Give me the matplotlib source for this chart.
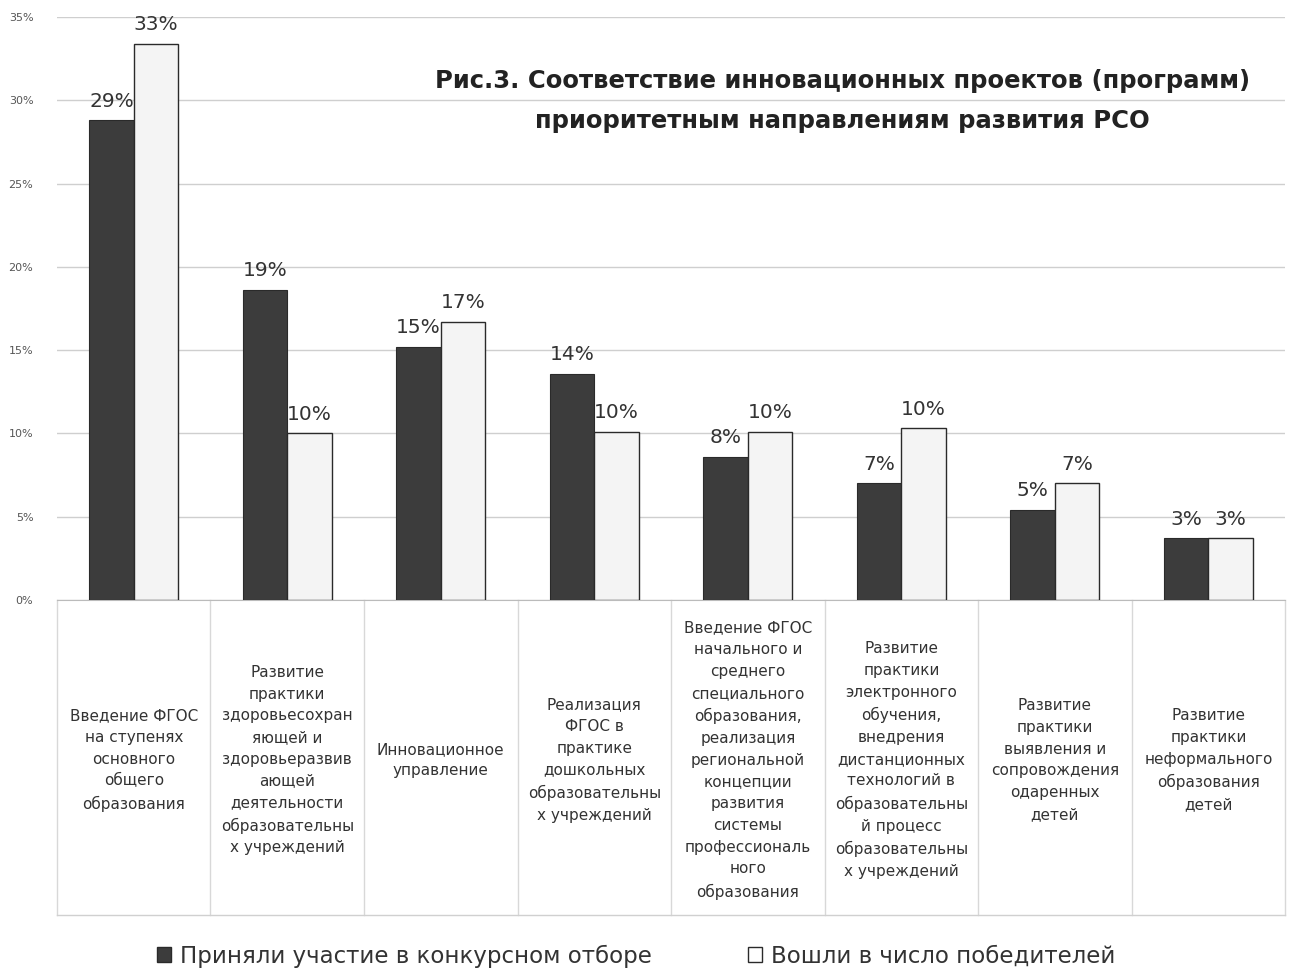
import numpy as np
import matplotlib.pyplot as plt
from matplotlib.patches import Patch

# Categories (x-axis labels, already broken into lines as in the original)
categories = [
    'Введение ФГОС\nна ступенях\nосновного\nобщего\nобразования',
    'Развитие\nпрактики\nздоровьесохран\nяющей и\nздоровьеразвив\nающей\nдеятельности\nобразовательны\nх учреждений',
    'Инновационное\nуправление',
    'Реализация\nФГОС в\nпрактике\nдошкольных\nобразовательны\nх учреждений',
    'Введение ФГОС\nначального и\nсреднего\nспециального\nобразования,\nреализация\nрегиональной\nконцепции\nразвития\nсистемы\nпрофессиональ\nного\nобразования',
    'Развитие\nпрактики\nэлектронного\nобучения,\nвнедрения\nдистанционных\nтехнологий в\nобразовательны\nй процесс\nобразовательны\nх учреждений',
    'Развитие\nпрактики\nвыявления и\nсопровождения\nодаренных\nдетей',
    'Развитие\nпрактики\nнеформального\nобразования\nдетей',
]

# Series values (%)
participated = [28.8, 18.6, 15.2, 13.6, 8.6, 7.0, 5.4, 3.7]
winners = [33.4, 10.0, 16.7, 10.1, 10.1, 10.3, 7.0, 3.7]

# Data labels as printed on the chart
participated_labels = ['29%', '19%', '15%', '14%', '8%', '7%', '5%', '3%']
winners_labels = ['33%', '10%', '17%', '10%', '10%', '10%', '7%', '3%']

series_names = ['Приняли участие в конкурсном отборе', 'Вошли в число победителей']
y_ticks = [0, 5, 10, 15, 20, 25, 30, 35]

title = ('Рис.3. Соответствие инновационных проектов (программ)\n'
         'приоритетным направлениям развития РСО')

dark = '#3c3c3c'
light = '#f4f4f4'
grid_col = '#cfcfcf'
text_col = '#333333'

fig = plt.figure(figsize=(13.06, 9.71), dpi=100)
ax = fig.add_axes([0.0436, 0.382, 0.9405, 0.6005])

x = np.arange(len(categories))
w = 0.29

b1 = ax.bar(x - w / 2, participated, w, color=dark, edgecolor='#2a2a2a', linewidth=0.8, zorder=3)
b2 = ax.bar(x + w / 2, winners, w, color=light, edgecolor='#2a2a2a', linewidth=1.0, zorder=3)

for bar, lab in zip(b1, participated_labels):
    ax.annotate(lab, (bar.get_x() + bar.get_width() / 2, bar.get_height()),
                xytext=(0, 7), textcoords='offset points', ha='center', va='bottom',
                fontsize=14.5, color=text_col)
for bar, lab in zip(b2, winners_labels):
    ax.annotate(lab, (bar.get_x() + bar.get_width() / 2, bar.get_height()),
                xytext=(0, 7), textcoords='offset points', ha='center', va='bottom',
                fontsize=14.5, color=text_col)

ax.set_xlim(-0.5, len(categories) - 0.5)
ax.set_ylim(0, 35)
ax.set_yticks(y_ticks)
ax.set_yticklabels([f'{t}%' for t in y_ticks], fontsize=8, color='#555555')
ax.tick_params(axis='y', length=0, pad=17)
ax.set_xticks([])
ax.yaxis.grid(True, color=grid_col, linewidth=1.0, zorder=0)
for s in ['top', 'right', 'left']:
    ax.spines[s].set_visible(False)
ax.spines['bottom'].set_color('#bbbbbb')

# table-like category area below the axis
trans = ax.get_xaxis_transform()
bottom = -0.54
for b in np.arange(len(categories) + 1) - 0.5:
    ax.plot([b, b], [0, bottom], transform=trans, color='#d8d8d8', linewidth=1.0, clip_on=False)
ax.plot([-0.5, len(categories) - 0.5], [bottom, bottom], transform=trans,
        color='#d0d0d0', linewidth=1.0, clip_on=False)

for xi, lab in zip(x, categories):
    ax.text(xi, -0.2745, lab, transform=trans, ha='center', va='center',
            fontsize=11, color=text_col, linespacing=1.56)

fig.text(0.645, 0.896, title, ha='center', va='center', fontsize=17.5,
         fontweight='bold', color='#222222', linespacing=1.85)

handles = [Patch(facecolor=dark, edgecolor='#2a2a2a'),
           Patch(facecolor='white', edgecolor='#2a2a2a')]
fig.legend(handles, series_names, loc='lower center', bbox_to_anchor=(0.487, -0.018),
           ncol=2, frameon=False, fontsize=16.5, handlelength=0.6, handleheight=0.6,
           handletextpad=0.4, columnspacing=4.2, labelcolor=text_col)

fig.savefig('out.png', dpi=100, facecolor='white')
